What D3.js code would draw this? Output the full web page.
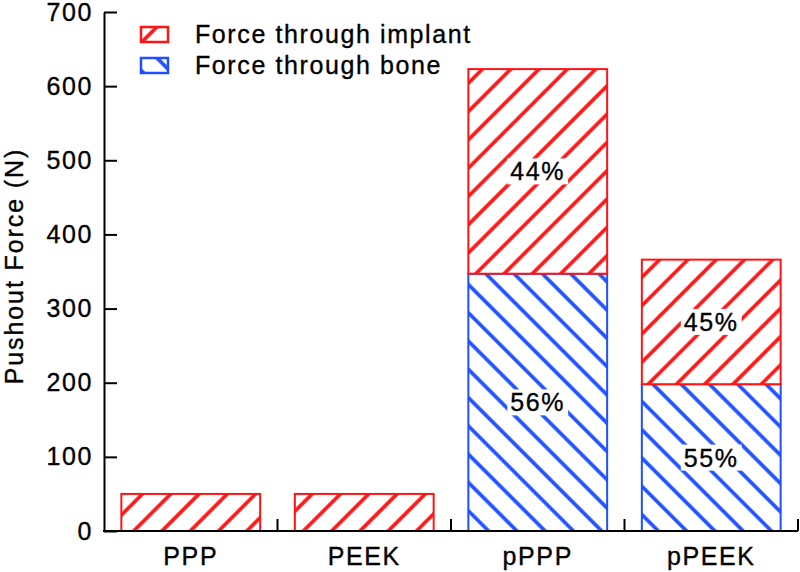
<!DOCTYPE html>
<html>
<head>
<meta charset="utf-8">
<script src="https://cdn.jsdelivr.net/npm/d3@7"></script>
<style>
  html, body { margin: 0; padding: 0; background: #fff; }
  text { font-family: "Liberation Sans", Arial, sans-serif; stroke: #000; stroke-width: 0.35px; }
</style>
</head>
<body>
<svg id="chart" width="800" height="572"></svg>
<script>
const categories = ["PPP", "PEEK", "pPPP", "pPEEK"];
const boneForce = [0, 0, 347, 198];
const implantForce = [50, 50, 276, 168];
const implantPct = [null, null, "44%", "45%"];
const bonePct = [null, null, "56%", "55%"];
const yTicks = [0, 100, 200, 300, 400, 500, 600, 700];
const legendLabels = ["Force through implant", "Force through bone"];

const RED = "#ff1414";
const BLUE = "#1e50ff";
const FS = 25;
const LS = 1.6;

const svg = d3.select("#chart");
const plotLeft = 104, plotRight = 798, plotTop = 12, plotBottom = 531;

const x = d3.scaleBand().domain(categories).range([plotLeft, plotRight])
  .paddingInner(0.2).paddingOuter(0.1);
const y = d3.scaleLinear().domain([0, 700]).range([plotBottom, plotTop]);

// patterns
const defs = svg.append("defs");
function hatch(id, color, angle) {
  const p = defs.append("pattern").attr("id", id)
    .attr("patternUnits", "userSpaceOnUse")
    .attr("width", 20).attr("height", 20)
    .attr("patternTransform", `rotate(${angle})`);
  p.append("rect").attr("width", 20).attr("height", 20).attr("fill", "#fff");
  p.append("line").attr("x1", 10).attr("y1", 0).attr("x2", 10).attr("y2", 20)
    .attr("stroke", color).attr("stroke-width", 3.6);
}
hatch("hRed", RED, 45);
hatch("hBlue", BLUE, -45);

// bars
const data = categories.map((c, i) => ({
  c, bone: boneForce[i], implant: implantForce[i],
  ip: implantPct[i], bp: bonePct[i]
}));

const g = svg.append("g");
data.forEach(d => {
  if (d.bone > 0) {
    g.append("rect")
      .attr("x", x(d.c)).attr("width", x.bandwidth())
      .attr("y", y(d.bone)).attr("height", y(0) - y(d.bone))
      .attr("fill", "url(#hBlue)").attr("stroke", BLUE).attr("stroke-width", 2);
  }
  g.append("rect")
    .attr("x", x(d.c)).attr("width", x.bandwidth())
    .attr("y", y(d.bone + d.implant)).attr("height", y(d.bone) - y(d.bone + d.implant))
    .attr("fill", "url(#hRed)").attr("stroke", RED).attr("stroke-width", 2);
});

// percentage labels with white backgrounds
function pctLabel(txt, cx, cy) {
  const grp = svg.append("g");
  const bg = grp.append("rect").attr("fill", "#fff");
  const t = grp.append("text").attr("x", cx).attr("y", cy)
    .attr("text-anchor", "middle").attr("dominant-baseline", "central")
    .attr("font-size", FS).attr("letter-spacing", LS).attr("fill", "#000").text(txt);
  const b = t.node().getBBox();
  bg.attr("x", b.x - 3).attr("y", b.y + 1).attr("width", b.width + 6).attr("height", b.height - 2);
}
data.forEach(d => {
  const cx = x(d.c) + x.bandwidth() / 2;
  if (d.ip) pctLabel(d.ip, cx, (y(d.bone + d.implant) + y(d.bone)) / 2);
  if (d.bp) pctLabel(d.bp, cx, (y(d.bone) + y(0)) / 2);
});

// y axis
const yAxis = svg.append("g").attr("transform", `translate(${plotLeft},0)`)
  .call(d3.axisLeft(y).tickValues(yTicks).tickSizeInner(-13).tickSizeOuter(0).tickPadding(11));
yAxis.select(".domain").attr("stroke", "#000").attr("stroke-width", 2);
yAxis.selectAll(".tick line").attr("stroke", "#000").attr("stroke-width", 2);
yAxis.selectAll(".tick text").attr("font-size", FS).attr("letter-spacing", LS)
  .attr("fill", "#000").attr("font-family", "Liberation Sans, Arial, sans-serif");

// x axis
svg.append("line").attr("x1", plotLeft - 1).attr("x2", plotRight).attr("y1", plotBottom).attr("y2", plotBottom)
  .attr("stroke", "#000").attr("stroke-width", 2);
categories.forEach(c => {
  const bx = x(c) + x.bandwidth() + x.step() * x.paddingInner() / 2;
  svg.append("line").attr("x1", bx).attr("x2", bx).attr("y1", plotBottom).attr("y2", plotBottom - 12)
    .attr("stroke", "#000").attr("stroke-width", 2);
  svg.append("text").attr("x", x(c) + x.bandwidth() / 2).attr("y", 565)
    .attr("text-anchor", "middle").attr("font-size", FS).attr("letter-spacing", LS)
    .attr("fill", "#000").text(c);
});

// y title
svg.append("text").attr("transform", "translate(23,266) rotate(-90)")
  .attr("text-anchor", "middle").attr("font-size", FS).attr("letter-spacing", 1.9)
  .attr("fill", "#000").text("Pushout Force (N)");

// legend
const legColors = [["url(#hRed)", RED], ["url(#hBlue)", BLUE]];
const legY = [27, 58];
legendLabels.forEach((lab, i) => {
  svg.append("rect").attr("x", 141).attr("y", legY[i]).attr("width", 27).attr("height", 15)
    .attr("fill", legColors[i][0]).attr("stroke", legColors[i][1]).attr("stroke-width", 2.5);
  svg.append("text").attr("x", 195).attr("y", legY[i] + 16)
    .attr("font-size", FS).attr("letter-spacing", LS).attr("fill", "#000").text(lab);
});
</script>
</body>
</html>
